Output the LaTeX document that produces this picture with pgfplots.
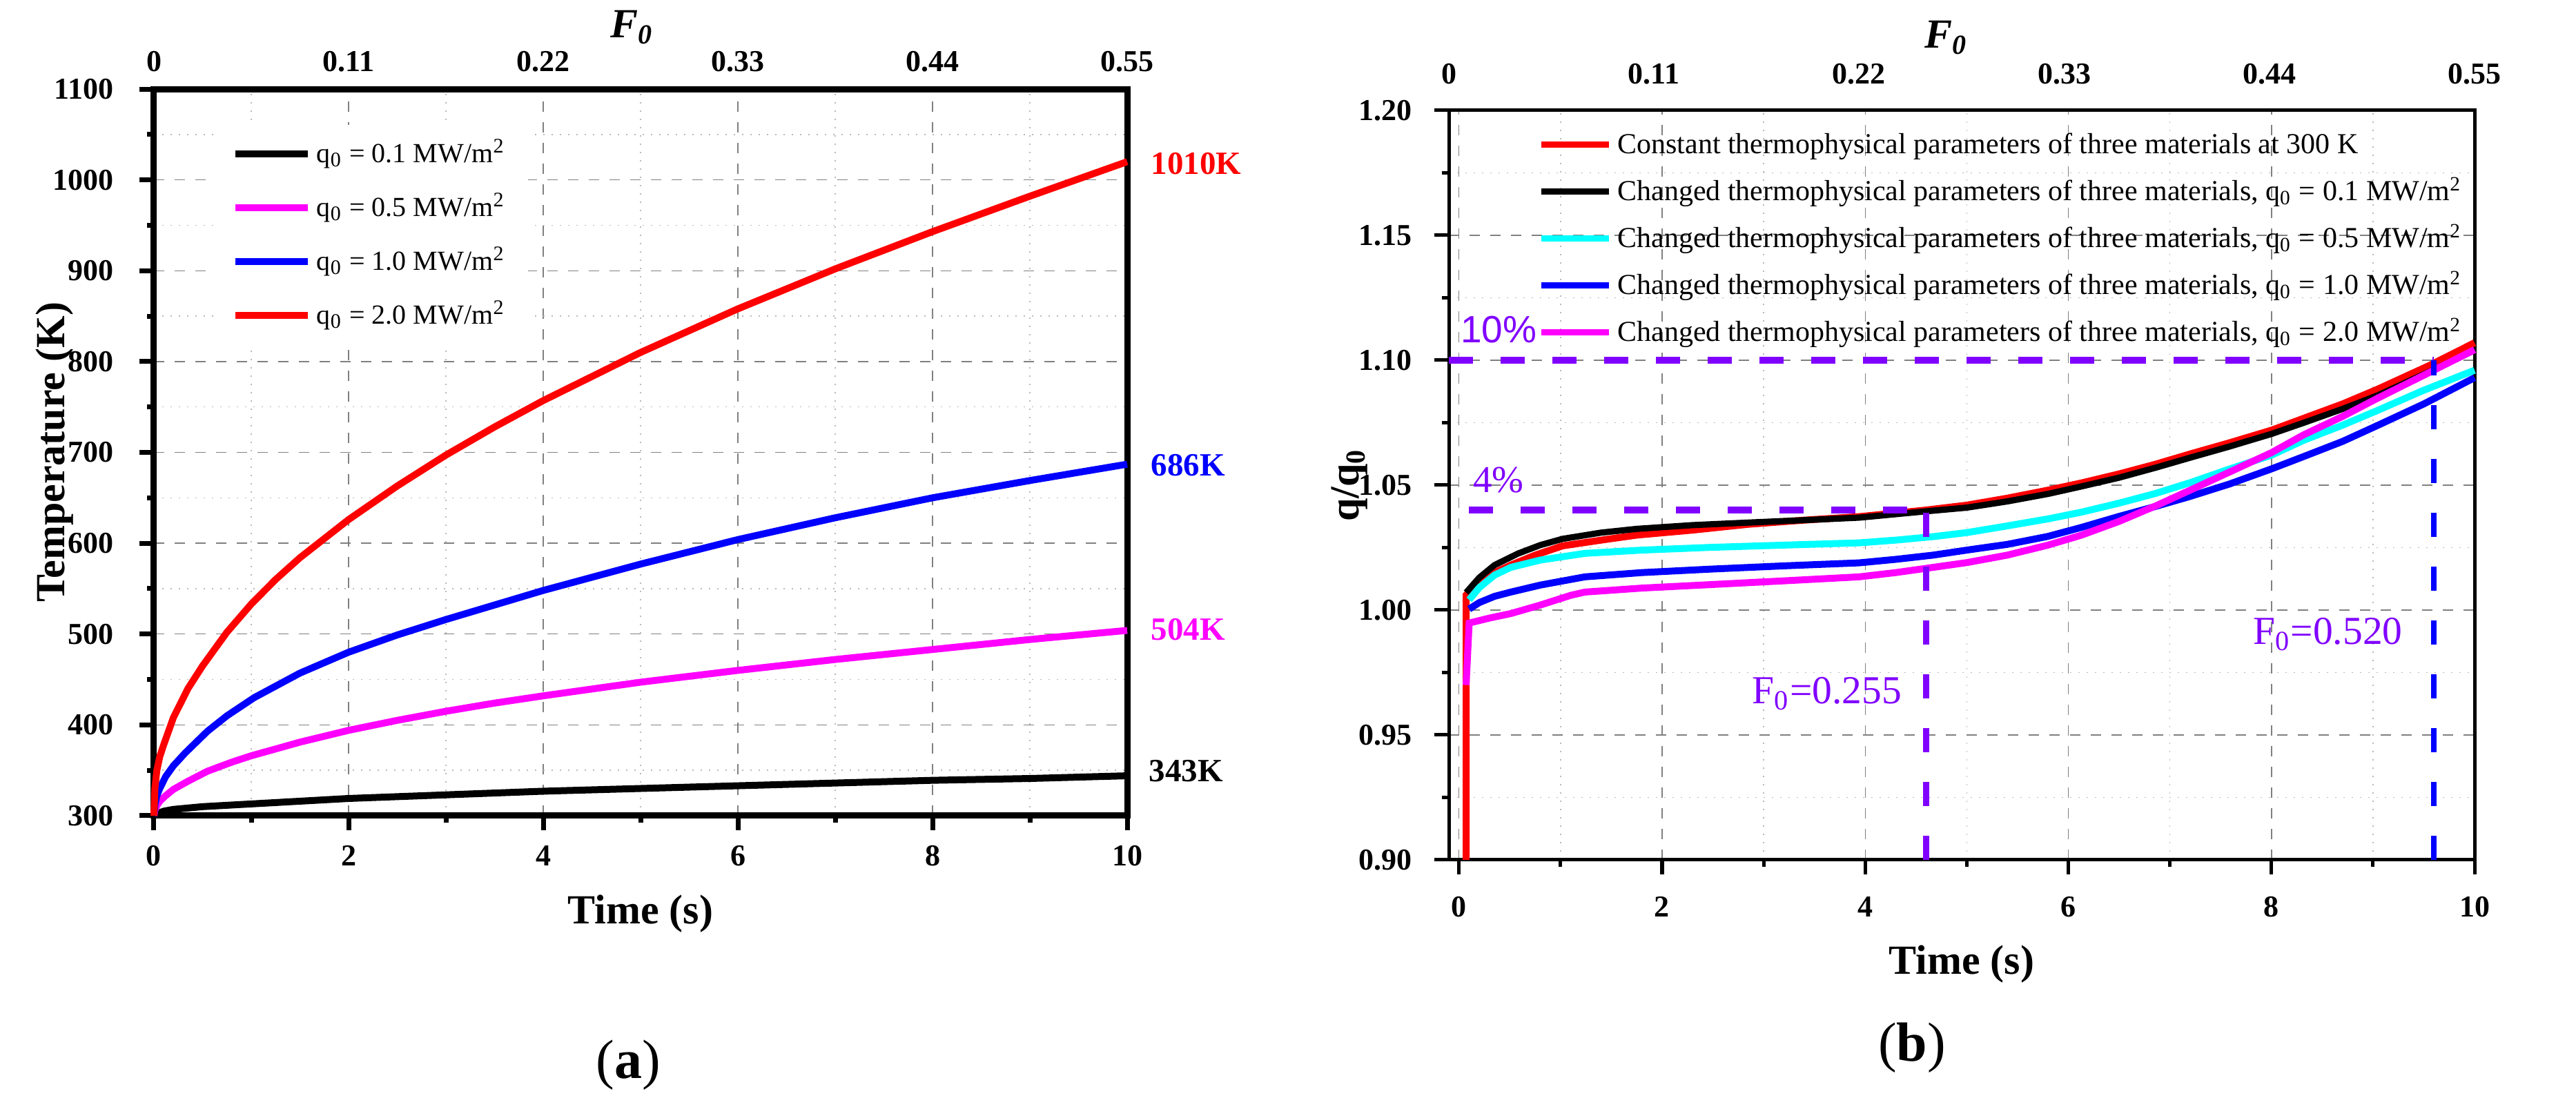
\documentclass[border=0pt]{standalone}
\usepackage{fontspec}
\setmainfont{Liberation Serif}
\newfontfamily\arialf{Liberation Sans}
\usepackage{pgfplots}
\pgfplotsset{compat=1.18}
\definecolor{purp}{RGB}{128,0,255}
\definecolor{mag}{RGB}{255,0,255}
\definecolor{cyn}{RGB}{0,255,255}
\newcommand{\tickfont}{\fontsize{8.8}{10}\selectfont\bfseries}
\newcommand{\labfont}{\fontsize{12}{14}\selectfont\bfseries}
\pgfplotsset{
 common/.style={
  scale only axis, anchor=south west,
  tick align=outside,
  xtick pos=bottom, ytick pos=left,
  /pgf/number format/assume math mode=true,
  ticklabel style={font=\tickfont},
  label style={font=\labfont},
  grid=both,
  major grid style={gray, dashed, line width=0.3pt},
  minor grid style={gray!55, dotted, line width=0.3pt},
  minor x tick num=1, minor y tick num=1,
  clip=false,
  legend cell align=left,
 },
 topaxis/.style={
  scale only axis, anchor=south west,
  axis x line*=top, axis y line=none,
  xmin=0,xmax=0.55, ymin=0,ymax=1,
  xtick={0,0.11,0.22,0.33,0.44,0.55},
  xticklabels={0,0.11,0.22,0.33,0.44,0.55},
  major tick length=0pt,
  x axis line style={draw=none},
  ticklabel style={font=\tickfont},
 }
}
\begin{document}
\begin{tikzpicture}
\path[use as bounding box] (0,0) rectangle (746.4pt,318.2pt);
% ---------------- (a) ----------------
\begin{axis}[common, at={(44.6pt,81.8pt)}, width=282pt, height=210.6pt,
  xmin=0, xmax=10, ymin=300, ymax=1100,
  xtick={0,2,4,6,8,10}, xticklabels={0,2,4,6,8,10},
  ytick={300,400,500,600,700,800,900,1000,1100},
  yticklabels={300,400,500,600,700,800,900,1000,1100},
  xticklabel style={yshift=-1pt}, yticklabel style={xshift=-4pt},
  axis line style={line width=1.8pt},
  major tick length=4.2pt, minor tick length=2pt,
  every tick/.style={black, line width=1.4pt},
  xlabel={Time (s)}, ylabel={Temperature (K)},
  xlabel style={at={(axis description cs:0.5,-0.135)}, anchor=center},
  ylabel style={at={(axis description cs:-0.102,0.5)}, anchor=center},
  legend style={at={(axis description cs:0.062,0.952)}, anchor=north west,
     draw=none, fill=white, font=\fontsize{8}{9.6}\selectfont,
     nodes={inner xsep=1.5pt, inner ysep=0pt, text height=7pt, text depth=2pt},
     row sep=6.6pt, inner xsep=5pt, inner ysep=4pt},
  legend image code/.code={\draw[#1, line width=2pt] (0pt,0pt) -- (21pt,0pt);},
]
\addplot[black, line width=2pt] coordinates {(0,300) (0.05,303) (0.1,305) (0.2,307) (0.5,310) (1,313) (1.5,316) (2,319) (3,323) (4,327) (5,330) (6,333) (7,336) (8,339) (9,341) (10,344)};
\addlegendentry{q\textsubscript{0} = 0.1 MW/m\textsuperscript{2}}
\addplot[mag, line width=2pt] coordinates {(0,300) (0.01,306) (0.03,311) (0.06,316) (0.12,322) (0.2,329) (0.35,338) (0.55,349) (0.8,359) (1,366) (1.5,381) (2,394) (2.5,405) (3,415) (3.5,424) (4,432) (5,447) (6,460) (7,472) (8,483) (9,494) (10,504)};
\addlegendentry{q\textsubscript{0} = 0.5 MW/m\textsuperscript{2}}
\addplot[blue, line width=2pt] coordinates {(0,300) (0.01,312) (0.03,322) (0.06,330) (0.12,343) (0.2,355) (0.32,369) (0.55,393) (0.75,410) (1.03,430) (1.5,457) (2,480) (2.5,499) (3,516) (3.5,532) (4,548) (5,577) (6,604) (7,628) (8,650) (9,669) (10,687)};
\addlegendentry{q\textsubscript{0} = 1.0 MW/m\textsuperscript{2}}
\addplot[red, line width=2pt] coordinates {(0,300) (0.01,330) (0.03,350) (0.06,365) (0.1,378) (0.2,408) (0.35,440) (0.5,465) (0.75,502) (1,533) (1.25,560) (1.5,584) (2,626) (2.5,663) (3,697) (3.5,728) (4,757) (5,810) (6,858) (7,902) (8,943) (9,982) (10,1020)};
\addlegendentry{q\textsubscript{0} = 2.0 MW/m\textsuperscript{2}}
\node[anchor=west, red, font=\fontsize{9.4}{11}\selectfont\bfseries] at (axis description cs:1.012,0.897) {1010K};
\node[anchor=west, blue, font=\fontsize{9.4}{11}\selectfont\bfseries] at (axis description cs:1.012,0.482) {686K};
\node[anchor=west, mag, font=\fontsize{9.4}{11}\selectfont\bfseries] at (axis description cs:1.012,0.256) {504K};
\node[anchor=west, black, font=\fontsize{9.4}{11}\selectfont\bfseries] at (axis description cs:1.010,0.062) {343K};
\end{axis}
\begin{axis}[topaxis, at={(44.6pt,81.8pt)}, width=282pt, height=210.6pt,
  xticklabel style={yshift=1.5pt},
  xlabel={\fontsize{12}{14}\selectfont\bfseries\itshape F\textsubscript{0}},
  xlabel style={at={(axis description cs:0.491,1.0845)}, anchor=center}]
\end{axis}
\node[font=\fontsize{16}{18}\selectfont] at (182pt,9.6pt) {(\textbf{a})};
% ---------------- (b) ----------------
\begin{axis}[common, at={(419.8pt,69pt)}, width=297.2pt, height=217.2pt,
  xmin=-0.1, xmax=10, ymin=0.9, ymax=1.2,
  xtick={0,2,4,6,8,10}, xticklabels={0,2,4,6,8,10},
  ytick={0.90,0.95,1.00,1.05,1.10,1.15,1.20},
  yticklabels={0.90,0.95,1.00,1.05,1.10,1.15,1.20},
  xticklabel style={yshift=-3pt}, yticklabel style={xshift=-3pt},
  axis line style={line width=1pt},
  major tick length=4.2pt, minor tick length=2pt,
  every tick/.style={black, line width=1pt},
  xlabel={Time (s)}, ylabel={q/q\textsubscript{0}},
  xlabel style={at={(axis description cs:0.5,-0.139)}, anchor=center},
  ylabel style={at={(axis description cs:-0.097,0.5)}, anchor=center},
  legend style={at={(axis description cs:0.08,0.985)}, anchor=north west,
     draw=none, fill=none, font=\fontsize{8.4}{10}\selectfont,
     nodes={inner xsep=1.5pt, inner ysep=0pt, text height=7pt, text depth=2pt},
     row sep=4.6pt, inner xsep=2pt, inner ysep=2pt},
  legend image code/.code={\draw[#1, line width=1.8pt] (0pt,0pt) -- (19.6pt,0pt);},
]
\addplot[red, line width=2pt] coordinates {(0.07,0.900) (0.07,1.006) (0.2,1.011) (0.35,1.015) (0.51,1.018) (0.75,1.022) (1.02,1.0257) (1.4,1.028) (1.75,1.030) (2.3,1.032) (2.84,1.0343) (3.4,1.036) (3.94,1.0374) (4.59,1.040) (5.0,1.042) (5.40,1.0448) (5.8,1.048) (6.13,1.0509) (6.5,1.0545) (6.86,1.0584) (7.2,1.0625) (7.59,1.0670) (8.0,1.0720) (8.32,1.0768) (8.7,1.0825) (9.05,1.0885) (9.56,1.098) (10,1.107)};
\addlegendentry{ Constant thermophysical parameters of three materials at 300 K}
\addplot[black, line width=1.8pt] coordinates {(0.07,1.007) (0.2,1.013) (0.35,1.018) (0.58,1.0226) (0.8,1.026) (1.02,1.0285) (1.4,1.031) (1.75,1.0325) (2.3,1.034) (2.84,1.035) (3.4,1.036) (3.94,1.037) (4.59,1.0395) (5.0,1.041) (5.4,1.0435) (5.8,1.0465) (6.13,1.0495) (6.5,1.053) (6.86,1.057) (7.2,1.061) (7.59,1.0655) (8.0,1.0705) (8.32,1.075) (8.7,1.0805) (9.05,1.086) (9.56,1.0955) (10,1.104)};
\addlegendentry{Changed thermophysical parameters of three materials, q\textsubscript{0} = 0.1 MW/m\textsuperscript{2}}
\addplot[cyn, line width=2pt] coordinates {(0.1,1.0041) (0.2,1.009) (0.35,1.014) (0.51,1.0171) (0.8,1.020) (1.24,1.0227) (1.8,1.024) (2.48,1.0251) (3.2,1.026) (3.94,1.0269) (4.3,1.028) (4.67,1.0294) (5.0,1.031) (5.40,1.0337) (5.8,1.0365) (6.13,1.0392) (6.5,1.0428) (6.86,1.0467) (7.2,1.051) (7.59,1.0565) (8.0,1.062) (8.32,1.068) (8.7,1.074) (9.05,1.080) (9.5,1.088) (10,1.096)};
\addlegendentry{Changed thermophysical parameters of three materials, q\textsubscript{0} = 0.5 MW/m\textsuperscript{2}}
\addplot[blue, line width=2pt] coordinates {(0.1,1.0004) (0.2,1.003) (0.35,1.0055) (0.51,1.0072) (0.8,1.010) (1.24,1.0133) (1.8,1.015) (2.48,1.0164) (3.2,1.0177) (3.94,1.0189) (4.3,1.0203) (4.67,1.022) (5.0,1.024) (5.40,1.0263) (5.8,1.0295) (6.13,1.0331) (6.5,1.0375) (6.86,1.0415) (7.2,1.0455) (7.59,1.0505) (8.0,1.0565) (8.32,1.0615) (8.7,1.0675) (9.05,1.074) (9.5,1.0825) (10,1.093)};
\addlegendentry{Changed thermophysical parameters of three materials, q\textsubscript{0} = 1.0 MW/m\textsuperscript{2}}
\addplot[mag, line width=2pt] coordinates {(0.07,0.970) (0.1,0.9948) (0.3,0.9968) (0.51,0.9986) (0.8,1.002) (1.1,1.0059) (1.24,1.0072) (1.8,1.0088) (2.48,1.0102) (3.2,1.0117) (3.94,1.0133) (4.3,1.015) (4.67,1.0171) (5.0,1.019) (5.40,1.022) (5.8,1.026) (6.13,1.030) (6.5,1.0355) (6.86,1.0417) (7.2,1.048) (7.59,1.0553) (8.0,1.063) (8.32,1.0702) (8.7,1.0775) (9.05,1.0849) (9.5,1.094) (10,1.1042)};
\addlegendentry{Changed thermophysical parameters of three materials, q\textsubscript{0} = 2.0 MW/m\textsuperscript{2}}
% annotation lines
\addplot[forget plot, purp, line width=2pt, dash pattern=on 7pt off 8pt] coordinates {(-0.1,1.10) (9.6,1.10)};
\addplot[forget plot, purp, line width=2pt, dash pattern=on 7pt off 8pt] coordinates {(0.1,1.04) (4.6,1.04)};
\addplot[forget plot, purp, line width=1.7pt, dash pattern=on 7pt off 8.6pt] coordinates {(4.6,0.90) (4.6,1.04)};
\addplot[forget plot, blue, line width=1.7pt, dash pattern=on 7pt off 8.6pt] coordinates {(9.6,0.90) (9.6,1.10)};
\node[purp, font=\arialf\fontsize{11}{13}\selectfont] at (axis cs:0.39,1.1122) {10\%};
\node[purp, font=\fontsize{11}{13}\selectfont] at (axis cs:0.39,1.052) {4\%};
\node[purp, anchor=base east, font=\fontsize{11.5}{13}\selectfont] at (axis cs:4.48,0.9627) {F\textsubscript{0}=0.255};
\node[purp, anchor=base east, font=\fontsize{11.5}{13}\selectfont] at (axis cs:9.41,0.9862) {F\textsubscript{0}=0.520};
\end{axis}
\begin{axis}[topaxis, at={(419.8pt,69pt)}, width=297.2pt, height=217.2pt,
  xticklabel style={yshift=4pt},
  xlabel={\fontsize{12}{14}\selectfont\bfseries\itshape F\textsubscript{0}},
  xlabel style={at={(axis description cs:0.485,1.097)}, anchor=center}]
\end{axis}
\node[font=\fontsize{16}{18}\selectfont] at (554pt,14.6pt) {(\textbf{b})};
\end{tikzpicture}
\end{document}
